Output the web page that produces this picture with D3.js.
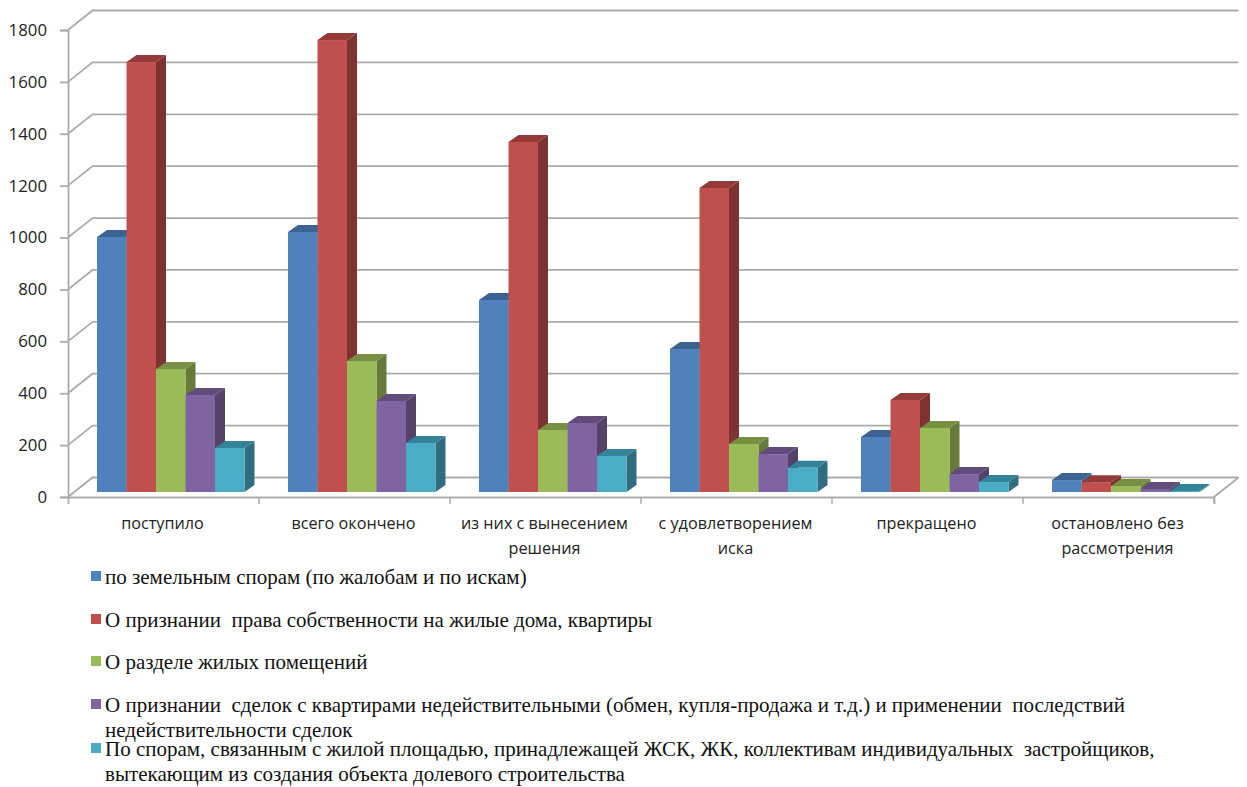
<!DOCTYPE html>
<html>
<head>
<meta charset="utf-8">
<script src="https://cdn.jsdelivr.net/npm/d3@7/dist/d3.min.js"></script>
<style>
html,body{margin:0;padding:0;background:#fff;}
svg{display:block;}
text{white-space:pre;}
</style>
</head>
<body>
<svg id="chart" width="1247" height="787"></svg>
<script>
// Court case counts by outcome and dispute type
const categories = ["поступило","всего окончено","из них с вынесением решения","с удовлетворением иска","прекращено","остановлено без рассмотрения"];
const categoryLines = [["поступило"],["всего окончено"],["из них с вынесением","решения"],["с удовлетворением","иска"],["прекращено"],["остановлено без","рассмотрения"]];
const landDisputes  = [983,1002,740,551,212,46];
const ownership     = [1657,1742,1349,1172,355,38];
const housingSplit  = [474,505,239,185,247,23];
const voidDeals     = [374,351,266,146,69,12];
const cooperatives  = [170,189,139,93,39,4];
const seriesValues = [landDisputes,ownership,housingSplit,voidDeals,cooperatives];
const yTicks = [0,200,400,600,800,1000,1200,1400,1600,1800];
const legendLines = [
  ["по земельным спорам (по жалобам и по искам)"],
  ["О признании  права собственности на жилые дома, квартиры"],
  ["О разделе жилых помещений"],
  ["О признании  сделок с квартирами недействительными (обмен, купля-продажа и т.д.) и применении  последствий","недействительности сделок"],
  ["По спорам, связанным с жилой площадью, принадлежащей ЖСК, ЖК, коллективам индивидуальных  застройщиков,","вытекающим из создания объекта долевого строительства"]
];
const faceColors = ["#4f81bd","#c0504d","#9bbb59","#8064a2","#4bacc6"];
const topColors  = ["#3c6291","#943b39","#779043","#614c7c","#338399"];
const sideColors = ["#3c6291","#7d3331","#667a3a","#544269","#306d80"];
const gridColor = "#ababab";

const svg = d3.select("#chart");
const plotLeft = 68, plotRight = 1214, floorY = 497, topY = 30;
const wallDx = 24.5, wallDy = -19.5;       // depth offset of the back wall
const barDx = 10, barDy = -7, barInsetY = -5; // bar depth and floor inset
const barInsetX = 29;

const x = d3.scaleBand().domain(categories).range([plotLeft, plotRight]);
const y = d3.scaleLinear().domain([0,1800]).range([floorY, topY]);
const series = d3.scaleBand().domain(d3.range(seriesValues.length))
  .range([barInsetX, x.bandwidth() - 14.5]);

// Back wall gridlines and their diagonals on the side wall
const grid = svg.append("g").attr("fill","none").attr("stroke",gridColor).attr("stroke-width",1.8);
grid.selectAll("path.grid").data(yTicks).join("path").attr("class","grid")
  .attr("d", d => d3.line()([[plotLeft,y(d)],[plotLeft+wallDx,y(d)+wallDy],[plotRight+wallDx,y(d)+wallDy]]));
// Floor: only the zero line carries on around the right-hand edge
grid.append("path").attr("d", d3.line()([[plotRight,floorY],[plotRight+wallDx,floorY+wallDy]]));

// Left axis and bottom axis, drawn with the library's axis generators
const axisFont = "'Open Sans','Noto Sans',sans-serif";
const yAxis = svg.append("g").attr("transform",`translate(${plotLeft},0)`)
  .call(d3.axisLeft(y).tickValues(yTicks).tickSize(8).tickPadding(13).tickFormat(d3.format("d")));
yAxis.selectAll("path,line").attr("stroke",gridColor).attr("stroke-width",1.8);
yAxis.selectAll("text").attr("fill","#222").style("font",`16.8px ${axisFont}`);

const xAxis = svg.append("g").attr("transform",`translate(0,${floorY})`)
  .call(d3.axisBottom(x).tickValues([]).tickSizeOuter(7));
xAxis.selectAll("path").attr("stroke",gridColor).attr("stroke-width",1.8);
svg.append("g").attr("stroke",gridColor).attr("stroke-width",1.5)
  .selectAll("line").data(categories).join("line")
  .attr("x1",d=>x(d)+x.bandwidth()).attr("x2",d=>x(d)+x.bandwidth())
  .attr("y1",floorY).attr("y2",floorY+7);

// Extruded bars: each group is painted left to right so fronts cover the previous side face
const bars = svg.append("g");
categories.forEach((cat,ci) => {
  seriesValues.forEach((vals,si) => {
    const x0 = x(cat) + series(si), w = series.bandwidth();
    const yb = y(0) + barInsetY, yt = y(vals[ci]) + barInsetY;
    const g = bars.append("g");
    g.append("path").attr("fill",sideColors[si]).attr("d", d3.line()([
      [x0+w,yt],[x0+w+barDx,yt+barDy],[x0+w+barDx,yb+barDy],[x0+w,yb]]));
    g.append("path").attr("fill",topColors[si]).attr("d", d3.line()([
      [x0,yt],[x0+barDx,yt+barDy],[x0+w+barDx,yt+barDy],[x0+w,yt]]));
    g.append("rect").attr("fill",faceColors[si])
      .attr("x",x0).attr("y",yt).attr("width",w).attr("height",yb-yt);
  });
});

// Category labels under the floor
svg.append("g").selectAll("text").data(categories).join("text")
  .attr("text-anchor","middle").attr("fill","#222")
  .style("font",`16.2px ${axisFont}`)
  .attr("transform",d=>`translate(${x(d)+x.bandwidth()/2-1},0)`)
  .each(function(d,i){
    d3.select(this).selectAll("tspan").data(categoryLines[i]).join("tspan")
      .attr("x",0).attr("y",(l,j)=>529+j*24.5).text(l=>l);
  });

// Legend
const legendY = [578,621,663,706,750];
const legend = svg.append("g").selectAll("g").data(legendLines).join("g")
  .attr("transform",(d,i)=>`translate(0,${legendY[i]})`);
legend.append("rect").attr("x",91).attr("y",-7).attr("width",10).attr("height",10)
  .attr("fill",(d,i)=>faceColors[i]);
legend.each(function(lines){
  d3.select(this).selectAll("text").data(lines).join("text")
    .attr("x",105).attr("y",(l,j)=>6+j*25).attr("fill","#111")
    .style("font","21px 'Liberation Serif',serif").text(l=>l);
});
</script>
</body>
</html>
